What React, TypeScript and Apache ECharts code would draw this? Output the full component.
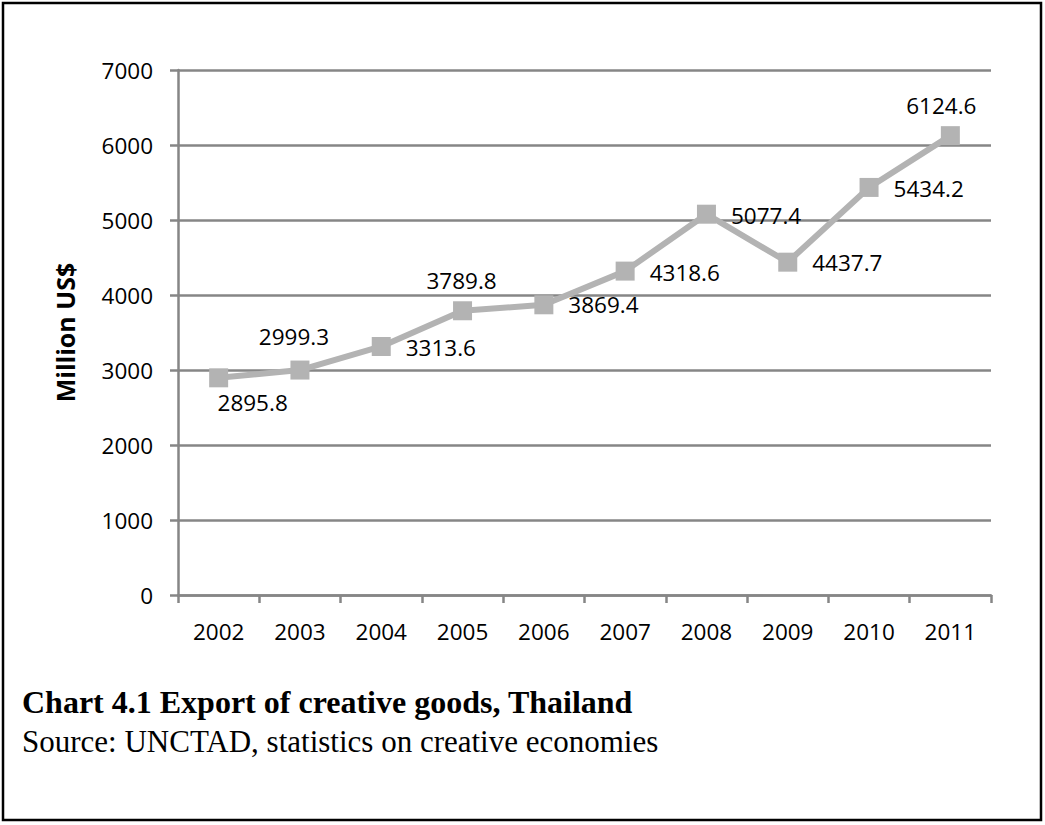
import React, { useEffect, useRef } from "react";
import * as echarts from "echarts";

const years = ["2002", "2003", "2004", "2005", "2006", "2007", "2008", "2009", "2010", "2011"];
const exportValues = [2895.8, 2999.3, 3313.6, 3789.8, 3869.4, 4318.6, 5077.4, 4437.7, 5434.2, 6124.6];
const yTicks = { min: 0, max: 7000, interval: 1000 };
const titleText = "Chart 4.1 Export of creative goods, Thailand";
const sourceText = "Source: UNCTAD, statistics on creative economies";
const axisName = "Million US$";

// label placement per point (style, not data)
const labelPlacement: { position: string; distance: number; offset: [number, number] }[] = [
  { position: "bottom", distance: 4, offset: [34, 0] },
  { position: "top", distance: 13, offset: [-6, 0] },
  { position: "right", distance: 15, offset: [0, 1] },
  { position: "top", distance: 9, offset: [-1, 0] },
  { position: "right", distance: 15, offset: [0, 0] },
  { position: "right", distance: 15, offset: [0, 1] },
  { position: "right", distance: 15, offset: [0, 1] },
  { position: "right", distance: 15, offset: [0, 0] },
  { position: "right", distance: 15, offset: [0, 1] },
  { position: "top", distance: 9, offset: [-9, 0] },
];

const FONT = "'Open Sans', 'Noto Sans', sans-serif";
const GRID = "#868686";

export default function App() {
  const ref = useRef<HTMLDivElement>(null);
  useEffect(() => {
    if (!ref.current) return;
    const chart = echarts.init(ref.current, undefined, { renderer: "svg" });
    chart.setOption({
      animation: false,
      backgroundColor: "#ffffff",
      grid: { left: 178, right: 54, top: 70, bottom: 230, containLabel: false },
      xAxis: {
        type: "category",
        data: years,
        boundaryGap: true,
        axisLine: { show: true, lineStyle: { color: GRID, width: 2.5 } },
        axisTick: { show: true, length: 8, lineStyle: { color: GRID, width: 2.5 } },
        axisLabel: { color: "#000", fontSize: 22.5, fontFamily: FONT, margin: 25 },
      },
      yAxis: {
        type: "value",
        min: yTicks.min,
        max: yTicks.max,
        interval: yTicks.interval,
        name: axisName,
        nameLocation: "middle",
        nameRotate: 90,
        nameGap: 101,
        nameTextStyle: { color: "#000", fontSize: 25, fontWeight: "bold", fontFamily: FONT },
        axisLine: { show: true, lineStyle: { color: GRID, width: 2.5 } },
        axisTick: { show: true, length: 8, lineStyle: { color: GRID, width: 2.5 } },
        splitLine: { show: true, lineStyle: { color: GRID, width: 2.5 } },
        axisLabel: {
          color: "#000",
          fontSize: 22.5,
          fontFamily: FONT,
          margin: 25,
          formatter: (v: number) => String(v),
        },
      },
      series: [
        {
          type: "line",
          data: exportValues.map((v, i) => ({
            value: v,
            label: {
              show: true,
              position: labelPlacement[i].position,
              distance: labelPlacement[i].distance,
              offset: labelPlacement[i].offset,
            },
          })),
          symbol: "rect",
          symbolSize: 19,
          lineStyle: { color: "#b3b3b3", width: 6 },
          itemStyle: { color: "#b3b3b3" },
          label: { show: true, color: "#000", fontSize: 22.5, fontFamily: FONT },
          z: 3,
        },
      ],
      graphic: [
        {
          type: "rect",
          shape: { x: 3, y: 3, width: 1038, height: 817 },
          style: { fill: "none", stroke: "#000", lineWidth: 2.5 },
          silent: true,
        },
        {
          type: "text",
          x: 22,
          y: 702,
          style: {
            text: titleText,
            font: "bold 32px 'Liberation Serif', 'Times New Roman', serif",
            fill: "#000",
            verticalAlign: "middle",
          },
        },
        {
          type: "text",
          x: 22,
          y: 741,
          style: {
            text: sourceText,
            font: "31px 'Liberation Serif', 'Times New Roman', serif",
            fill: "#000",
            verticalAlign: "middle",
          },
        },
      ],
    });
    return () => chart.dispose();
  }, []);
  return (
    <div
      ref={ref}
      style={{ position: "absolute", left: 0, top: 0, width: 1045, height: 825, background: "#fff" }}
    />
  );
}
